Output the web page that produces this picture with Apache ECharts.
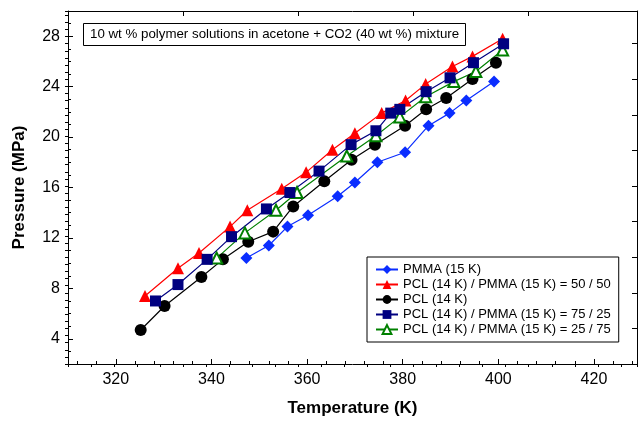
<!DOCTYPE html>
<html>
<head>
<meta charset="utf-8">
<script src="https://cdn.jsdelivr.net/npm/echarts@6/dist/echarts.min.js"></script>
<style>html,body{margin:0;padding:0;background:#fff}#c{width:641px;height:422px}</style>
</head>
<body>
<div id="c"></div>
<script>
// ---- data ----
const pmmaT  = [347.3, 352.0, 355.9, 360.2, 366.4, 370.0, 374.7, 380.5, 385.4, 389.8, 393.3, 399.1];
const pmmaP  = [10.4, 11.4, 12.9, 13.8, 15.3, 16.4, 18.0, 18.8, 20.9, 21.9, 22.9, 24.4];
const r5050T = [326.1, 333.0, 337.4, 343.9, 347.5, 354.7, 359.8, 365.3, 370.0, 375.6, 380.6, 384.8, 390.4, 394.6, 400.9];
const r5050P = [7.4, 9.6, 10.8, 12.9, 14.2, 15.9, 17.2, 19.0, 20.3, 21.9, 22.9, 24.2, 25.6, 26.4, 27.8];
const pclT   = [325.2, 330.2, 337.9, 342.4, 347.7, 352.9, 357.1, 363.6, 369.3, 374.2, 380.5, 384.9, 389.1, 394.6, 399.5];
const pclP   = [4.7, 6.6, 8.9, 10.3, 11.7, 12.5, 14.5, 16.5, 18.2, 19.4, 20.9, 22.2, 23.1, 24.6, 25.9];
const r7525T = [328.3, 333.0, 339.1, 344.2, 351.5, 356.4, 362.5, 369.2, 374.4, 377.5, 379.4, 384.9, 389.9, 394.8, 401.1];
const r7525P = [7.0, 8.3, 10.3, 12.1, 14.3, 15.6, 17.3, 19.4, 20.5, 21.9, 22.2, 23.6, 24.7, 25.9, 27.4];
const r2575T = [341.1, 347.0, 353.5, 357.9, 368.3, 374.4, 379.4, 384.8, 390.7, 395.3, 400.9];
const r2575P = [10.4, 12.4, 14.2, 15.6, 18.5, 20.1, 21.6, 23.2, 24.4, 25.2, 26.9];

const seriesNames = [
  'PMMA (15 K)',
  'PCL (14 K) / PMMA (15 K) = 50 / 50',
  'PCL (14 K)',
  'PCL (14 K) / PMMA (15 K) = 75 / 25',
  'PCL (14 K) / PMMA (15 K) = 25 / 75'
];
const xTickLabels = [320, 340, 360, 380, 400, 420];
const yTickLabels = [4, 8, 12, 16, 20, 24, 28];
const titleText = '10 wt % polymer solutions in acetone + CO2 (40 wt %) mixture';

// ---- config ----
const FONT = 'Liberation Sans, Arial, sans-serif';
const xMinor = []; for (let v = 312; v <= 428; v += 4) xMinor.push(v);
const zip = (a, b) => a.map((v, i) => [v, b[i]]);

const hidden = { show: false };
function minorAxis(extra) {
  return Object.assign({
    type: 'value', axisLine: hidden, splitLine: hidden, axisLabel: hidden,
    axisTick: { show: true, inside: true, length: 3, lineStyle: { color: '#000', width: 1 } }
  }, extra);
}

const option = {
  animation: false,
  backgroundColor: '#fff',
  title: {
    text: titleText, left: 83, top: 23, padding: [5, 7],
    borderColor: '#000', borderWidth: 1,
    textStyle: { fontSize: 13.3, fontWeight: 'normal', fontFamily: FONT, color: '#000' }
  },
  legend: {
    data: seriesNames, orient: 'vertical', left: 367, top: 257,
    padding: [6, 8, 6, 8], borderColor: '#000', borderWidth: 1,
    itemWidth: 22, itemHeight: 11, itemGap: 2,
    textStyle: { fontSize: 13, fontFamily: FONT, color: '#000' }
  },
  grid: { left: 68, right: 4, top: 11, bottom: 58 },
  xAxis: [
    {
      type: 'value', position: 'bottom', min: 310, max: 429,
      axisLine: { show: true, onZero: false, lineStyle: { color: '#000', width: 1 } },
      splitLine: hidden,
      axisTick: { show: true, inside: true, length: 5, customValues: xTickLabels, lineStyle: { color: '#000' } },
      axisLabel: { customValues: xTickLabels, fontSize: 16, fontFamily: FONT, color: '#000', margin: 8 },
      name: 'Temperature (K)', nameLocation: 'middle', nameGap: 36,
      nameTextStyle: { fontSize: 17, fontWeight: 'bold', fontFamily: FONT, color: '#000' }
    },
    minorAxis({ position: 'bottom', min: 310, max: 429,
      axisTick: { show: true, inside: true, length: 3, customValues: xMinor, lineStyle: { color: '#000' } } }),
    {
      type: 'value', position: 'top', min: 0, max: 24.7,
      axisLine: { show: true, onZero: false, lineStyle: { color: '#000', width: 1 } },
      splitLine: hidden, axisLabel: hidden,
      axisTick: { show: true, inside: true, length: 5, customValues: [5, 10, 15, 20], lineStyle: { color: '#000' } }
    },
    minorAxis({ position: 'top', min: 0, max: 24.7, interval: 1 })
  ],
  yAxis: [
    {
      type: 'value', position: 'left', min: 2, max: 30,
      axisLine: { show: true, onZero: false, lineStyle: { color: '#000', width: 1 } },
      splitLine: hidden,
      axisTick: { show: true, inside: true, length: 5, customValues: yTickLabels, lineStyle: { color: '#000' } },
      axisLabel: { customValues: yTickLabels, fontSize: 16, fontFamily: FONT, color: '#000', margin: 8 },
      name: 'Pressure (MPa)', nameLocation: 'middle', nameGap: 40, nameRotate: 90,
      nameTextStyle: { fontSize: 17, fontWeight: 'bold', fontFamily: FONT, color: '#000' }
    },
    minorAxis({ position: 'left', min: 2, max: 30, interval: 1 }),
    {
      type: 'value', position: 'right', min: 0, max: 49.6,
      axisLine: { show: true, onZero: false, lineStyle: { color: '#000', width: 1 } },
      splitLine: hidden, axisLabel: hidden,
      axisTick: { show: true, inside: true, length: 5, customValues: [5, 10, 15, 20, 25, 30, 35, 40, 45], lineStyle: { color: '#000' } }
    },
    minorAxis({ position: 'right', min: 0, max: 49.6, interval: 1 })
  ],
  series: [
    { name: seriesNames[0], type: 'line', data: zip(pmmaT, pmmaP), symbol: 'diamond', symbolSize: 12,
      lineStyle: { color: '#0a2dff', width: 1.2 }, itemStyle: { color: '#0a2dff' } },
    { name: seriesNames[1], type: 'line', data: zip(r5050T, r5050P), symbol: 'triangle', symbolSize: 12,
      lineStyle: { color: '#ff0000', width: 1.2 }, itemStyle: { color: '#ff0000' } },
    { name: seriesNames[2], type: 'line', data: zip(pclT, pclP), symbol: 'circle', symbolSize: 12,
      lineStyle: { color: '#000000', width: 1.2 }, itemStyle: { color: '#000000' } },
    { name: seriesNames[4], type: 'line', data: zip(r2575T, r2575P), symbol: 'triangle', symbolSize: 11,
      lineStyle: { color: '#008000', width: 1.2 }, itemStyle: { color: '#ffffff', borderColor: '#008000', borderWidth: 2 } },
    { name: seriesNames[3], type: 'line', data: zip(r7525T, r7525P), symbol: 'rect', symbolSize: 11,
      lineStyle: { color: '#000080', width: 1.2 }, itemStyle: { color: '#000080' } }
  ]
};

const chart = echarts.init(document.getElementById('c'), null, { renderer: 'canvas' });
chart.setOption(option);
</script>
</body>
</html>
